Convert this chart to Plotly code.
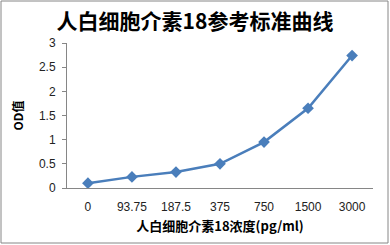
import plotly.graph_objects as go

categories = ["0", "93.75", "187.5", "375", "750", "1500", "3000"]
od_values = [0.10, 0.23, 0.33, 0.50, 0.95, 1.65, 2.74]

fig = go.Figure()
fig.add_trace(go.Scatter(
    x=categories, y=od_values, mode="lines+markers",
    line=dict(color="#4a7ebb", width=2.5),
    marker=dict(symbol="diamond", size=9, color="#4a7ebb"),
    showlegend=False,
))

font_family = "Noto Sans CJK SC, Liberation Sans, sans-serif"
fig.update_layout(
    width=390, height=245,
    margin=dict(l=67, r=17, t=43, b=57),
    paper_bgcolor="white", plot_bgcolor="white",
    font=dict(family=font_family, size=11, color="#222"),
    title=dict(text="<b>人白细胞介素18参考标准曲线</b>", x=0.5, xanchor="center",
               y=0.91, yanchor="middle", font=dict(size=21, color="black")),
    xaxis=dict(type="category", showline=True, linecolor="#868686", linewidth=1,
               showgrid=False, ticks="", ticklabelstandoff=8,
               tickfont=dict(size=12, family="Liberation Sans, sans-serif"),
               title=dict(text="<b>人白细胞介素18浓度(pg/ml)</b>", font=dict(size=13, color="black"), standoff=8)),
    yaxis=dict(range=[0, 3], dtick=0.5, showline=True, linecolor="#868686", linewidth=1,
               showgrid=False, ticks="outside", ticklen=4, tickcolor="#868686",
               ticklabelstandoff=4,
               tickfont=dict(size=12, family="Liberation Sans, sans-serif"),
               title=dict(text="<b>OD值</b>", font=dict(size=12, color="black"), standoff=12)),
)
fig.add_shape(type="rect", xref="paper", yref="paper",
              x0=(1 - 67) / 306, x1=(388 - 67) / 306,
              y0=-(243 - 188) / 145, y1=1 + (43 - 1) / 145,
              line=dict(color="#868686", width=1))

fig.write_html("out.html")
